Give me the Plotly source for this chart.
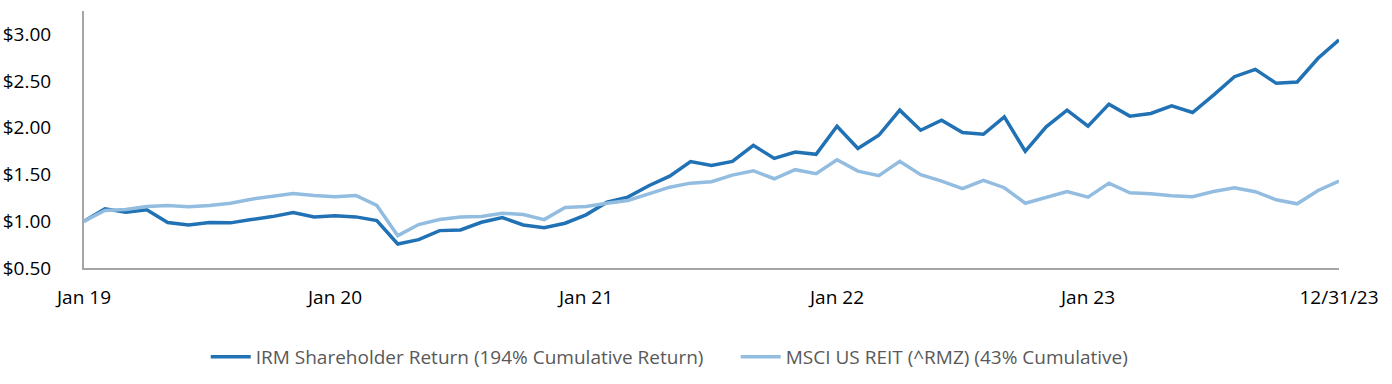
import plotly.graph_objects as go

# Month labels, Jan 2019 .. Dec 2023, then year-end
months = []
for yr in range(19, 24):
    for m in ["Jan", "Feb", "Mar", "Apr", "May", "Jun", "Jul", "Aug", "Sep", "Oct", "Nov", "Dec"]:
        months.append(f"{m} {yr}")
months.append("12/31/23")

irm = [1.00, 1.133, 1.097, 1.122, 0.986, 0.961, 0.986, 0.983, 1.018, 1.05,
       1.093, 1.047, 1.058, 1.047, 1.008, 0.757, 0.803, 0.90, 0.907, 0.989,
       1.04, 0.961, 0.932, 0.979, 1.069, 1.204, 1.258, 1.38, 1.483, 1.638,
       1.598, 1.641, 1.813, 1.673, 1.741, 1.716, 2.017, 1.778, 1.92, 2.189,
       1.974, 2.082, 1.949, 1.931, 2.117, 1.749, 2.01, 2.189, 2.017, 2.253,
       2.125, 2.154, 2.235, 2.164, 2.35, 2.547, 2.626, 2.476, 2.49, 2.744,
       2.941]

msci = [1.00, 1.115, 1.126, 1.158, 1.169, 1.155, 1.169, 1.193, 1.236, 1.269,
        1.298, 1.276, 1.262, 1.276, 1.169, 0.846, 0.965, 1.018, 1.045, 1.05,
        1.086, 1.072, 1.018, 1.147, 1.158, 1.193, 1.222, 1.294, 1.365, 1.408,
        1.423, 1.494, 1.541, 1.455, 1.552, 1.509, 1.659, 1.537, 1.488, 1.641,
        1.498, 1.43, 1.348, 1.437, 1.359, 1.193, 1.258, 1.319, 1.258, 1.408,
        1.305, 1.294, 1.273, 1.262, 1.319, 1.359, 1.316, 1.23, 1.187, 1.33,
        1.43]

x_tickvals = ["Jan 19", "Jan 20", "Jan 21", "Jan 22", "Jan 23", "12/31/23"]
y_tickvals = [0.5, 1.0, 1.5, 2.0, 2.5, 3.0]
y_ticktext = ["$0.50", "$1.00", "$1.50", "$2.00", "$2.50", "$3.00"]

series_names = ["IRM Shareholder Return (194% Cumulative Return)",
                "MSCI US REIT (^RMZ) (43% Cumulative)"]

fig = go.Figure()
fig.add_trace(go.Scatter(x=months, y=irm, mode="lines", name=series_names[0],
                         line=dict(color="#2171b5", width=3.5)))
fig.add_trace(go.Scatter(x=months, y=msci, mode="lines", name=series_names[1],
                         line=dict(color="#93bde0", width=3.5)))

fig.update_layout(
    width=1392, height=384,
    margin=dict(l=84, r=53, t=11, b=116, autoexpand=False),
    paper_bgcolor="white", plot_bgcolor="white",
    font=dict(family="Open Sans", size=19, color="black"),
    showlegend=True,
    legend=dict(orientation="h", x=0.097, xanchor="left", y=-0.272, yanchor="top",
                font=dict(size=19, color="#595959"), itemwidth=40,
                entrywidth=475, entrywidthmode="pixels"),
    xaxis=dict(type="category", range=[0, 60], tickvals=x_tickvals,
               showgrid=False, showline=True, linecolor="#a6a6a6", linewidth=2,
               ticks="", ticklabelstandoff=11, zeroline=False, automargin=False),
    yaxis=dict(range=[0.5, 3.25], tickvals=y_tickvals, ticktext=y_ticktext,
               showgrid=False, showline=True, linecolor="#a6a6a6", linewidth=2,
               ticks="", ticklabelstandoff=27, zeroline=False, automargin=False),
)

fig.write_html("out.html",
               config={"displayModeBar": False},
               post_script="document.body.style.margin='0';document.body.style.padding='0';")
